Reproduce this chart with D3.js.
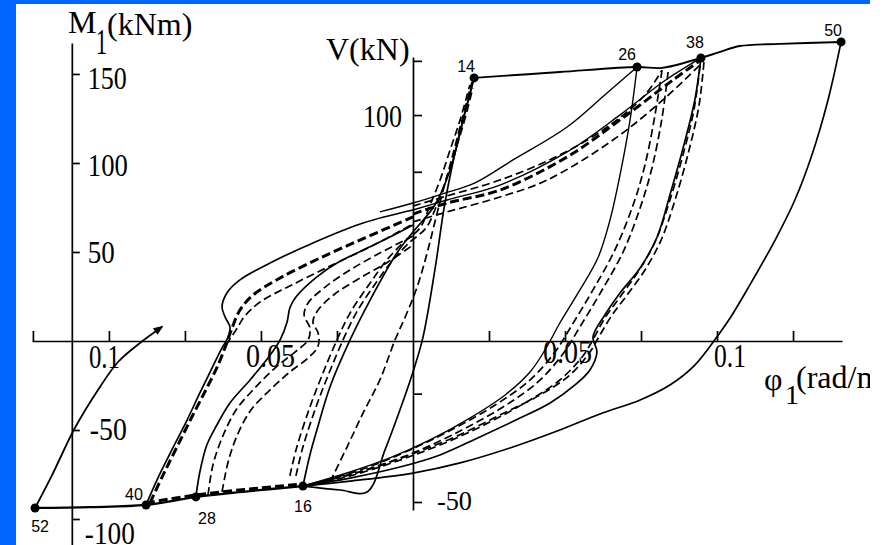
<!DOCTYPE html>
<html><head><meta charset="utf-8">
<script src="https://cdn.jsdelivr.net/npm/d3@7/dist/d3.min.js"></script>
<style>
html,body{margin:0;padding:0;background:#fff;}
svg{display:block;}
.serif{font-family:"Liberation Serif","Times New Roman",serif;fill:#000;}
.sans{font-family:"Liberation Sans",Arial,sans-serif;fill:#000;}
</style></head>
<body>
<svg id="chart" width="888" height="545"></svg>
<script>
// ---------- DATA ----------
// rotation phi_1 (rad/m) ticks on the horizontal axis
const phiTicks = [-0.125,-0.1,-0.075,-0.05,-0.025,0.025,0.05,0.075,0.1,0.125];
const phiLabelValues = [-0.1,-0.05,0.05,0.1];
const phiLabelTexts = ["0.1","0.05","0.05","0.1"];
// moment M_1 (kNm) ticks on the left axis
const mTicks = [150,100,50,-50,-100];
const mLabelTexts = ["150","100","50","-50","-100"];
// shear V (kN) ticks on the central axis
const vTicks = [121,100,78,-8,-50];
const vLabelValues = [100,-50];
const vLabelTexts = ["100","-50"];
// numbered peak points
const pointNames = ["14","26","38","50","16","28","40","52"];
const pointPhi = [0.0201,0.0737,0.0947,0.1408,-0.0362,-0.0714,-0.0878,-0.1243];
const pointM = [147.8,153.9,159.0,168.0,-81.5,-87.6,-92.1,-93.8];

// curves [phi, M]
const arrowBranch = [[-0.1243,-93.8],[-0.1187,-75.3],[-0.1112,-48.9],[-0.1036,-27.5],[-0.0970,-11.8],[-0.0898,-1.1],[-0.0826,7.9]];
const topSkeleton = [[0.0201,147.8],[0.0483,151.1],[0.0737,153.9],[0.0819,153.4],[0.0947,159.0],[0.1010,162.4],[0.1075,165.7],[0.1207,166.9],[0.1408,168.0]];
const unload50 = [[0.1408,168.0],[0.1365,135.4],[0.1312,104.5],[0.1256,79.2],[0.1191,56.7],[0.1108,31.5],[0.1043,12.9],[0.0997,1.7],[0.0927,-13.5],[0.0845,-24.7],[0.0747,-33.1],[0.0615,-41.0],[0.0483,-50.0],[0.0319,-60.1],[0.0155,-68.5],[0,-74.2],[-0.0207,-78.7],[-0.0362,-81.5]];
const bottomSkeleton = [[-0.0362,-81.5],[-0.0536,-84.3],[-0.0714,-87.6],[-0.0878,-92.1],[-0.1062,-93.3],[-0.1243,-93.8]];
const bottomDashed = [[-0.0878,-91.0],[-0.0714,-86.5],[-0.0536,-83.1],[-0.0362,-80.3]];
const load16to14 = [[-0.0362,-81.5],[-0.0240,-83.7],[-0.0151,-84.8],[-0.0092,-61.2],[-0.0043,-38.8],[0,-17.4],[0.0033,2.2],[0.0072,39.9],[0.0105,77.5],[0.0148,112.9],[0.0201,147.8]];
const unload14 = [[-0.0362,-81.5],[-0.0339,-64.0],[-0.0316,-50.0],[-0.0273,-25.8],[-0.0207,0.6],[-0.0141,23.0],[-0.0053,49.4],[0,61.2],[0.0072,76.4],[0.0122,96.1],[0.0161,121.3],[0.0201,147.8]];
const reload26 = [[-0.0109,72.5],[0,77.5],[0.0105,83.1],[0.0204,88.8],[0.0329,101.7],[0.0507,120.2],[0.0638,139.3],[0.0737,153.9]];
const loop40Solid = [[-0.0878,-92.1],[-0.0839,-77.0],[-0.0793,-61.2],[-0.0743,-44.4],[-0.0701,-29.2],[-0.0661,-15.2],[-0.0628,-3.9],[-0.0608,2.2],[-0.0602,7.9],[-0.0618,13.5],[-0.0628,19.1],[-0.0612,27.0],[-0.0569,34.3],[-0.0470,43.8],[-0.0329,55.1],[-0.0164,66.3],[0,73.6]];
const loop40Dash = [[-0.0865,-91.0],[-0.0822,-75.3],[-0.0773,-58.4],[-0.0724,-41.6],[-0.0678,-26.4],[-0.0641,-13.5],[-0.0615,-2.2],[-0.0595,7.3],[-0.0569,17.4],[-0.0526,25.8],[-0.0437,35.4],[-0.0306,46.6],[-0.0158,57.9],[0,69.7]];
const loop40Dash2 = [[-0.0615,-2.2],[-0.0582,6.2],[-0.0553,14.0],[-0.0503,21.9],[-0.0405,30.9],[-0.0273,42.1],[-0.0135,53.4],[0,65.7]];
const loop28Solid = [[-0.0714,-87.6],[-0.0701,-73.6],[-0.0678,-58.4],[-0.0645,-47.2],[-0.0602,-34.8],[-0.0536,-21.9],[-0.0477,-9.6],[-0.0437,0.6],[-0.0414,10.7],[-0.0405,18.5],[-0.0385,24.7],[-0.0316,36.0],[-0.0250,43.8],[-0.0164,51.1],[-0.0076,58.4],[0,65.2]];
const loop28Dash = [[-0.0674,-86.5],[-0.0658,-69.7],[-0.0628,-54.5],[-0.0582,-38.8],[-0.0520,-26.4],[-0.0454,-15.2],[-0.0388,-6.2],[-0.0345,0.6],[-0.0339,7.3],[-0.0358,14.6],[-0.0345,21.3],[-0.0289,30.3],[-0.0207,39.9],[-0.0109,49.4],[0,59.0]];
const loop28Dash2 = [[-0.0628,-84.8],[-0.0608,-68.0],[-0.0579,-53.4],[-0.0533,-38.8],[-0.0470,-27.5],[-0.0405,-17.4],[-0.0345,-9.6],[-0.0312,-2.8],[-0.0312,4.5],[-0.0329,10.7],[-0.0312,17.4],[-0.0257,26.4],[-0.0174,35.4],[-0.0082,44.4],[0,53.9]];
const loop16DashA = [[-0.0405,-75.8],[-0.0382,-59.6],[-0.0339,-37.1],[-0.0296,-18.0],[-0.0250,0.6],[-0.0207,15.7],[-0.0141,32.6],[-0.0086,45.5],[-0.0033,55.1],[0.0023,63.5],[0.0056,76.4],[0.0089,90.4],[0.0122,107.3],[0.0155,124.2],[0.0187,143.8]];
const loop16DashB = [[-0.0385,-75.8],[-0.0362,-59.6],[-0.0319,-37.1],[-0.0276,-18.0],[-0.0230,0.6],[-0.0187,15.7],[-0.0122,32.6],[-0.0066,45.5],[-0.0013,55.1],[0.0043,63.5],[0.0072,73.6],[0.0105,88.8],[0.0138,106.2],[0.0168,123.0],[0.0197,142.1]];
const loop16DashC = [[-0.0273,-79.2],[-0.0217,-59.6],[-0.0164,-40.4],[-0.0109,-21.9],[-0.0059,0.6],[-0.0020,15.7],[0.0016,31.5],[0.0049,51.1],[0.0082,73.6],[0.0122,98.9],[0.0161,124.2],[0.0194,145.5]];
const to38Solid = [[0,73.6],[0.0112,79.2],[0.0286,87.6],[0.0507,106.2],[0.0681,127.0],[0.0822,145.5],[0.0947,159.0]];
const to38DashA = [[0,71.3],[0.0112,77.5],[0.0286,84.8],[0.0507,103.4],[0.0681,124.2],[0.0855,146.6],[0.0947,157.9]];
const to38DashB = [[0,66.9],[0.0112,72.5],[0.0286,80.9],[0.0441,90.4],[0.0658,112.9],[0.0822,135.4],[0.0944,155.1]];
const to26DashC = [[0,75.8],[0.0112,81.5],[0.0286,90.4],[0.0483,104.5],[0.0648,121.3],[0.0763,138.2],[0.0819,152.2]];
const unload38 = [[0.0947,159.0],[0.0927,135.4],[0.0891,110.1],[0.0845,82.0],[0.0803,58.4],[0.0747,41.0],[0.0681,27.0],[0.0631,14.6],[0.0592,2.2],[0.0605,-6.2],[0.0582,-16.3],[0.0533,-24.7],[0.0451,-34.8],[0.0352,-43.3],[0.0220,-53.9],[0.0089,-64.0],[-0.0043,-70.8],[-0.0207,-77.0],[-0.0362,-81.5]];
const unload38DashA = [[0.0957,156.7],[0.0941,132.6],[0.0908,107.3],[0.0862,79.2],[0.0816,56.7],[0.0763,39.9],[0.0704,25.8],[0.0655,14.6],[0.0615,3.4],[0.0582,-6.2],[0.0516,-19.1],[0.0418,-30.3],[0.0286,-41.6],[0.0138,-53.9],[-0.0010,-64.0],[-0.0174,-73.6],[-0.0362,-81.5]];
const unload38DashB = [[0.0944,154.5],[0.0924,129.8],[0.0888,104.5],[0.0842,77.5],[0.0796,55.6],[0.0740,38.8],[0.0681,24.7],[0.0631,12.9],[0.0595,1.7],[0.0559,-8.4],[0.0483,-21.9],[0.0385,-33.1],[0.0253,-45.5],[0.0105,-57.3],[-0.0043,-66.9],[-0.0207,-75.8],[-0.0362,-81.5]];
const unload26 = [[0.0737,153.9],[0.0714,124.2],[0.0681,93.3],[0.0648,68.0],[0.0608,46.6],[0.0549,28.7],[0.0483,10.1],[0.0434,-5.1],[0.0385,-17.4],[0.0303,-30.3],[0.0187,-43.3],[0.0056,-55.6],[-0.0076,-65.7],[-0.0207,-73.6],[-0.0362,-81.5]];
const unload26DashA = [[0.0819,152.2],[0.0796,127.0],[0.0763,98.9],[0.0724,76.4],[0.0664,51.1],[0.0592,28.7],[0.0523,9.0],[0.0467,-6.2],[0.0385,-21.9],[0.0270,-36.0],[0.0138,-48.9],[-0.0010,-61.2],[-0.0174,-72.5],[-0.0362,-81.5]];
const unload26DashB = [[0.0839,151.1],[0.0819,125.3],[0.0786,97.2],[0.0747,74.7],[0.0691,50.0],[0.0618,27.5],[0.0549,7.9],[0.0493,-7.3],[0.0411,-23.0],[0.0296,-37.1],[0.0161,-50.0],[0.0007,-62.4],[-0.0168,-73.0],[-0.0362,-81.5]];

// ---------- DRAWING ----------
const svg = d3.select("#chart");
const W = 888, H = 545;
svg.append("rect").attr("width",W).attr("height",H).attr("fill","#fff");

const defs = svg.append("defs");
defs.append("clipPath").attr("id","panel").append("rect")
  .attr("x",16).attr("y",4).attr("width",854).attr("height",541);
defs.append("marker").attr("id","arr").attr("viewBox","0 0 10 10")
  .attr("refX",8).attr("refY",5).attr("markerWidth",12).attr("markerHeight",10)
  .attr("markerUnits","userSpaceOnUse").attr("orient","auto")
  .append("path").attr("d","M0,1 L10,5 L0,9 z").attr("fill","#000");

const x = d3.scaleLinear().domain([-0.1253,0.1411]).range([32,842]);
const y = d3.scaleLinear().domain([-114.6,167.4]).range([545,43]);
const vScale = d3.scaleLinear().domain([-53.1,122.5]).range([510,57]);
const mAxisPhi = -0.1122;

const g = svg.append("g").attr("clip-path","url(#panel)");

// axes
const xAxis = d3.axisTop(x).tickValues(phiTicks).tickSize(10).tickSizeOuter(0).tickFormat("");
const gx = g.append("g").attr("transform",`translate(0,${y(0)})`).call(xAxis);
const mAxis = d3.axisRight(y).tickValues(mTicks).tickSize(8).tickSizeOuter(0).tickFormat("");
const gm = g.append("g").attr("transform",`translate(${x(mAxisPhi)},0)`).call(mAxis);
const vAxis = d3.axisRight(vScale).tickValues(vTicks).tickSize(9).tickSizeOuter(0).tickFormat("");
const gv = g.append("g").attr("transform",`translate(${x(0)},0)`).call(vAxis);
[gx,gm,gv].forEach(a=>{
  a.selectAll("path.domain").attr("stroke","#000").attr("stroke-width",1.7);
  a.selectAll(".tick line").attr("stroke","#000").attr("stroke-width",1.7);
});

// curves
const line = d3.line().x(d=>x(d[0])).y(d=>y(d[1])).curve(d3.curveCatmullRom.alpha(0.5));
const curves = [
  {d:bottomSkeleton, s:"solid", w:2.3},
  {d:bottomDashed, s:"thick"},
  {d:unload50, s:"solid"},
  {d:topSkeleton, s:"solid", w:1.9},
  {d:load16to14, s:"solid"},
  {d:unload14, s:"solid"},
  {d:reload26, s:"solid", w:1.4},
  {d:loop40Solid, s:"solid"},
  {d:loop40Dash, s:"thick"},
  {d:loop40Dash2, s:"dash"},
  {d:loop28Solid, s:"solid"},
  {d:loop28Dash, s:"dash"},
  {d:loop28Dash2, s:"dash"},
  {d:loop16DashA, s:"dash"},
  {d:loop16DashB, s:"dash"},
  {d:loop16DashC, s:"dash"},
  {d:to38Solid, s:"solid", w:1.4},
  {d:to38DashA, s:"thick"},
  {d:to38DashB, s:"dash"},
  {d:to26DashC, s:"dash"},
  {d:unload38, s:"solid"},
  {d:unload38DashA, s:"dash"},
  {d:unload38DashB, s:"dash"},
  {d:unload26, s:"solid", w:1.4},
  {d:unload26DashA, s:"dash"},
  {d:unload26DashB, s:"dash"}
];
curves.forEach(c=>{
  const p = g.append("path").attr("d",line(c.d)).attr("fill","none").attr("stroke","#000")
    .attr("stroke-linejoin","round");
  if(c.s==="solid"){ p.attr("stroke-width",c.w||1.7); }
  else if(c.s==="dash"){ p.attr("stroke-width",1.7).attr("stroke-dasharray","8,4"); }
  else { p.attr("stroke-width",3).attr("stroke-dasharray","9,4"); }
});
g.append("path").attr("d",line(arrowBranch)).attr("fill","none").attr("stroke","#000")
  .attr("stroke-width",1.8).attr("marker-end","url(#arr)");

// peak points
const pts = pointNames.map((n,i)=>({n, p:pointPhi[i], m:pointM[i]}));
const labOff = {"14":[-8,-6],"26":[-10,-7],"38":[-6,-10],"50":[-8,-6],"16":[0,26],"28":[11,27],"40":[-12,-5],"52":[5,24]};
g.selectAll("circle.pt").data(pts).join("circle").attr("class","pt")
  .attr("cx",d=>x(d.p)).attr("cy",d=>y(d.m)).attr("r",4.5).attr("fill","#000");
g.selectAll("text.pt").data(pts).join("text").attr("class","pt sans")
  .attr("x",d=>x(d.p)+labOff[d.n][0]).attr("y",d=>y(d.m)+labOff[d.n][1])
  .attr("text-anchor","middle").attr("font-size",16).text(d=>d.n);

// tick labels (serif, condensed)
function num(t,xp,yp,len,fs){
  g.append("text").attr("class","serif").attr("x",xp).attr("y",yp).attr("font-size",fs||31)
   .attr("textLength",len).attr("lengthAdjust","spacingAndGlyphs").text(t);
}
const mLabDy = [15,13,11,10,25];
const mLabLen = [39,40,27,37,50];
const mLabDx = [16,16,16,18,13];
mTicks.forEach((v,i)=> num(mLabelTexts[i], x(mAxisPhi)+mLabDx[i], y(v)+mLabDy[i], mLabLen[i]));
num(vLabelTexts[0], x(0)-50, vScale(vLabelValues[0])+12, 39);
num(vLabelTexts[1], x(0)+24, vScale(vLabelValues[1])+8, 35, 28);
const phiDx = [-20,-15,-22,-3];
const phiDy = [27,26,22,26];
const phiLen = [31,49,49,32];
phiLabelValues.forEach((v,i)=> num(phiLabelTexts[i], x(v)+phiDx[i], y(0)+phiDy[i], phiLen[i], 33));

// axis titles
g.append("text").attr("class","serif").attr("x",68).attr("y",33).attr("font-size",32).text("M");
g.append("text").attr("class","serif").attr("x",96).attr("y",54).attr("font-size",36)
  .attr("textLength",11).attr("lengthAdjust","spacingAndGlyphs").text("1");
g.append("text").attr("class","serif").attr("x",107).attr("y",35).attr("font-size",32).text("(kNm)");
g.append("text").attr("class","serif").attr("x",326).attr("y",60).attr("font-size",32).text("V(kN)");
g.append("text").attr("class","serif").attr("x",764).attr("y",390).attr("font-size",32).text("φ");
g.append("text").attr("class","serif").attr("x",785).attr("y",404).attr("font-size",28).text("1");
g.append("text").attr("class","serif").attr("x",796).attr("y",388).attr("font-size",32).text("(rad/m)");

// slide border (blue)
svg.append("rect").attr("x",0).attr("y",0).attr("width",16).attr("height",H).attr("fill","#0066ff");
svg.append("rect").attr("x",0).attr("y",0).attr("width",870).attr("height",4).attr("fill","#0066ff");
</script>
</body></html>
